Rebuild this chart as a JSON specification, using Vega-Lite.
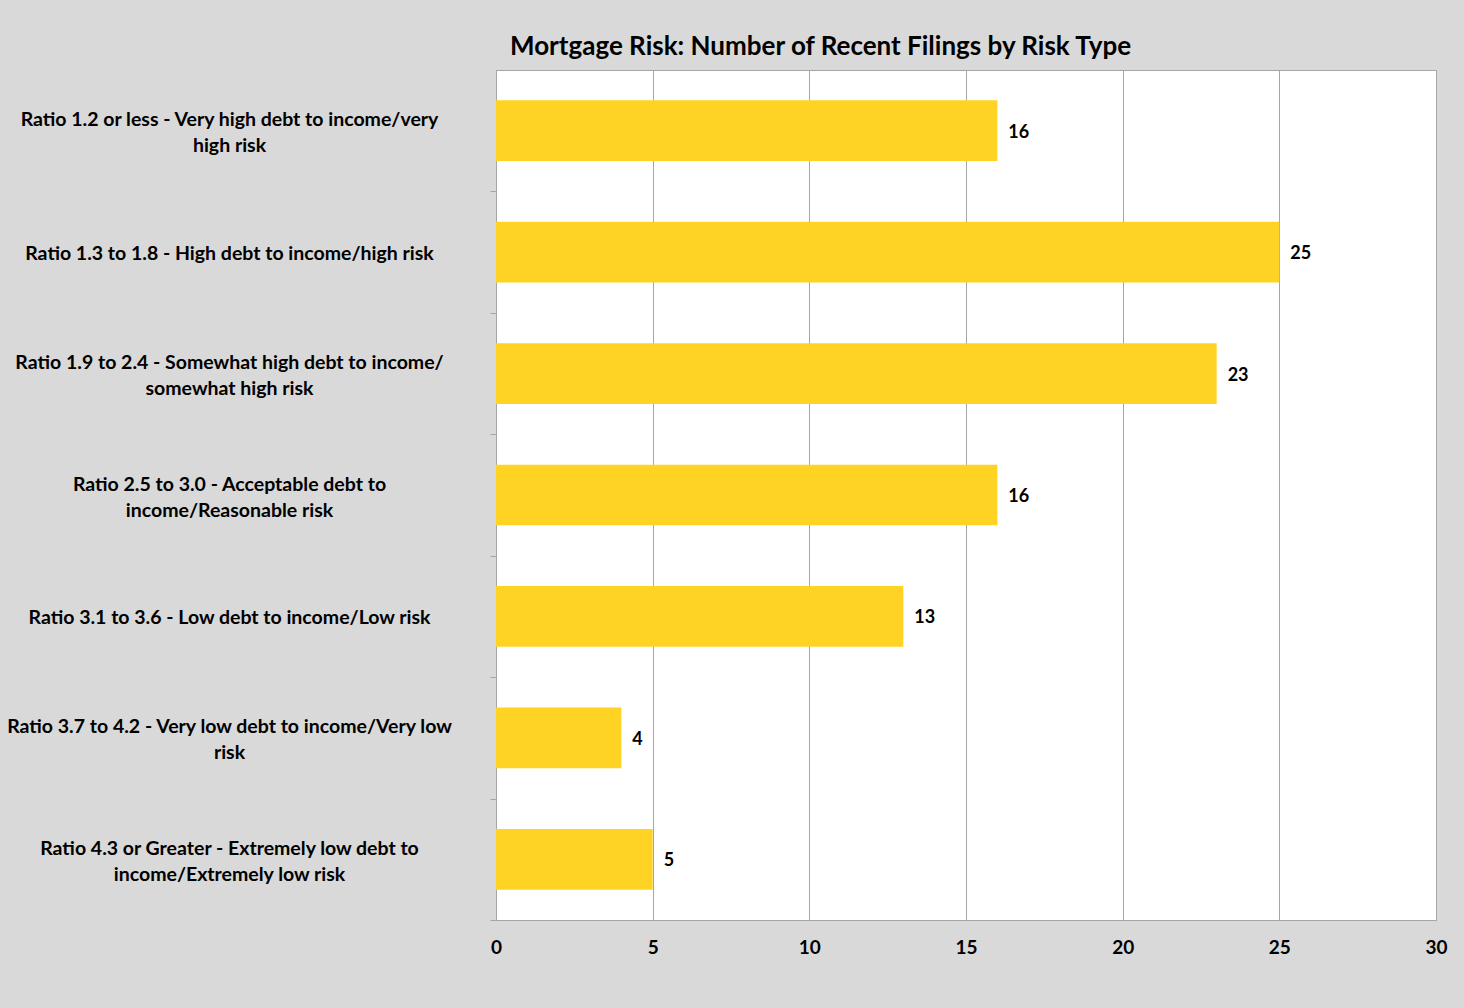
{
  "$schema": "https://vega.github.io/schema/vega-lite/v6.json",
  "width": 940,
  "height": 850,
  "autosize": {"type": "none"},
  "padding": {"left": 496, "top": 70, "right": 28, "bottom": 88},
  "background": "#d9d9d9",
  "title": {
    "text": "Mortgage Risk: Number of Recent Filings by Risk Type",
    "anchor": "start",
    "frame": "group",
    "dx": 14,
    "offset": 10,
    "font": "Lato",
    "fontSize": 26,
    "fontWeight": "bold",
    "color": "#000000"
  },
  "data": {
    "values": [
      {"risk": "Ratio 1.2 or less - Very high debt to income/very|high risk", "filings": 16},
      {"risk": "Ratio 1.3 to 1.8 - High debt to income/high risk", "filings": 25},
      {"risk": "Ratio 1.9 to 2.4 - Somewhat high debt to income/|somewhat high risk", "filings": 23},
      {"risk": "Ratio 2.5 to 3.0 - Acceptable debt to|income/Reasonable risk", "filings": 16},
      {"risk": "Ratio 3.1 to 3.6 - Low debt to income/Low risk", "filings": 13},
      {"risk": "Ratio 3.7 to 4.2 - Very low debt to income/Very low|risk", "filings": 4},
      {"risk": "Ratio 4.3 or Greater - Extremely low debt to|income/Extremely low risk", "filings": 5}
    ]
  },
  "encoding": {
    "y": {
      "field": "risk",
      "type": "nominal",
      "sort": null,
      "scale": {"paddingInner": 0.5, "paddingOuter": 0.25},
      "axis": {
        "title": null,
        "labelExpr": "split(datum.label, '|')",
        "labelFont": "Lato",
        "labelFontSize": 19.5,
        "labelFontWeight": "bold",
        "labelColor": "#000000",
        "labelAlign": "center",
        "labelBaseline": "middle",
        "labelLineHeight": 26,
        "labelLimit": 500,
        "labelPadding": 261,
        "labelOffset": {"condition": {"test": "indexof(datum.value, '|') >= 0", "value": -71.71}, "value": -59.71},
        "tickOffset": 60.71,
        "tickSize": 6,
        "tickColor": "#a6a6a6",
        "domainColor": "#a6a6a6",
        "grid": false
      }
    },
    "x": {
      "field": "filings",
      "type": "quantitative",
      "scale": {"domain": [0, 30], "nice": false},
      "axis": {
        "title": null,
        "values": [0, 5, 10, 15, 20, 25, 30],
        "ticks": false,
        "labelPadding": 18,
        "labelFont": "Lato",
        "labelFontSize": 19,
        "labelFontWeight": "bold",
        "labelColor": "#000000",
        "labelFlush": false,
        "domainColor": "#a6a6a6",
        "grid": true,
        "gridColor": "#a6a6a6",
        "gridWidth": 1
      }
    }
  },
  "layer": [
    {"mark": {"type": "bar", "color": "#FFD324"}},
    {
      "mark": {
        "type": "text",
        "align": "left",
        "baseline": "middle",
        "dx": 11,
        "dy": 2,
        "font": "Lato",
        "fontSize": 18,
        "fontWeight": "bold",
        "color": "#000000"
      },
      "encoding": {"text": {"field": "filings", "type": "quantitative"}}
    }
  ],
  "config": {
    "view": {"fill": "#ffffff", "stroke": "#a6a6a6", "strokeWidth": 1}
  }
}
